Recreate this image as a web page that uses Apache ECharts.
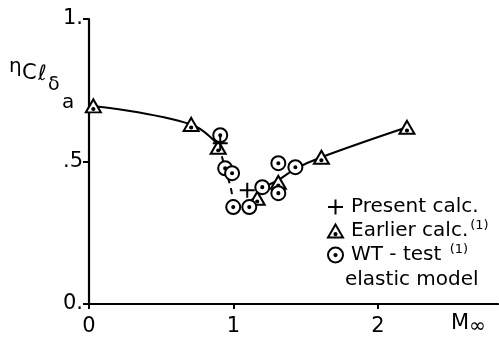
<!DOCTYPE html>
<html>
<head>
<meta charset="utf-8">
<script src="https://cdn.jsdelivr.net/npm/echarts@6/dist/echarts.min.js"></script>
<style>
  html, body { margin: 0; padding: 0; background: #fff; }
  #chart { width: 499px; height: 341px; }
</style>
</head>
<body>
<div id="chart"></div>
<script>
// Roll-control effectiveness versus free-stream Mach number
const presentX = [0.908, 1.095];
const presentY = [0.564, 0.399];

const earlierX = [0.03, 0.707, 0.894, 1.164, 1.31, 1.608, 2.2];
const earlierY = [0.695, 0.63, 0.55, 0.371, 0.427, 0.515, 0.62];

const wtX = [0.908, 0.942, 0.99, 0.998, 1.109, 1.199, 1.31, 1.31, 1.428];
const wtY = [0.592, 0.476, 0.459, 0.34, 0.34, 0.41, 0.494, 0.389, 0.48];

// faired curves
const leftCurveX = [0.03, 0.707, 0.9];
const leftCurveY = [0.695, 0.63, 0.555];
const dashCurveX = [0.9, 0.945, 0.98, 0.997];
const dashCurveY = [0.555, 0.47, 0.41, 0.36];
const rightCurveX = [1.12, 1.164, 1.2, 1.31, 1.43, 1.608, 2.2];
const rightCurveY = [0.365, 0.375, 0.405, 0.435, 0.475, 0.515, 0.62];

const xTicks = [0, 1, 2];
const yTicks = [0, 0.5, 1];
const yTickText = { 0: '0.', 0.5: '.5', 1: '1.' };

const pairs = (xs, ys) => xs.map((x, i) => [x, ys[i]]);

const FONT = "'DejaVu Sans', 'Noto Sans', sans-serif";
const plusPath = 'path://M-10,0L10,0M0,-10L0,10';
const triPath = 'path://M0,-10L11.5,10L-11.5,10Z M0,3.2A1.6,1.6 0 1,1 0,6.4A1.6,1.6 0 1,1 0,3.2Z';
const circPath = 'path://M0,-10A10,10 0 1,1 0,10A10,10 0 1,1 0,-10Z M0,-1.5A1.5,1.5 0 1,1 0,1.5A1.5,1.5 0 1,1 0,-1.5Z';

const markStyle = { color: '#fff', borderColor: '#000', borderWidth: 2, opacity: 1 };

const chart = echarts.init(document.getElementById('chart'), null, { renderer: 'canvas' });

chart.setOption({
  animation: false,
  backgroundColor: '#fff',
  textStyle: { fontFamily: FONT, color: '#000' },
  grid: { left: 89, right: 1, top: 19, bottom: 37 },
  xAxis: {
    type: 'value', min: 0, max: 2.83, interval: 1,
    axisLine: { lineStyle: { color: '#000', width: 2.2 } },
    axisTick: { show: true, customValues: xTicks, length: 5, lineStyle: { color: '#000', width: 2 } },
    axisLabel: { customValues: xTicks, fontSize: 21, color: '#000', margin: 12, fontFamily: FONT },
    splitLine: { show: false }
  },
  yAxis: {
    type: 'value', min: 0, max: 1, interval: 0.5,
    axisLine: { show: true, lineStyle: { color: '#000', width: 2.2 } },
    axisTick: { show: true, customValues: yTicks, length: 6, lineStyle: { color: '#000', width: 2 } },
    axisLabel: {
      customValues: yTicks, fontSize: 21, color: '#000', margin: 6, fontFamily: FONT,
      formatter: v => yTickText[v]
    },
    splitLine: { show: false }
  },
  legend: {
    orient: 'vertical', left: 322, top: 192,
    itemWidth: 15, itemHeight: 15, itemGap: 2,
    selectedMode: false,
    data: [
      { name: 'Present calc.', icon: plusPath, itemStyle: markStyle },
      { name: 'Earlier calc.', icon: triPath, itemStyle: markStyle },
      { name: 'WT-test', icon: circPath, itemStyle: markStyle }
    ],
    formatter: name => {
      if (name === 'Earlier calc.') return '{t|Earlier calc.}{s|(1)}';
      if (name === 'WT-test') return '{t|WT - test }{s|(1)}';
      return '{t|' + name + '}';
    },
    textStyle: {
      fontFamily: FONT,
      rich: {
        t: { fontSize: 20, lineHeight: 24, color: '#000', fontFamily: FONT, padding: [0, 0, 0, 3] },
        s: { fontSize: 13, lineHeight: 13, color: '#000', verticalAlign: 'top', fontFamily: FONT, padding: [0, 0, 0, 2] }
      }
    }
  },
  graphic: [
    { type: 'text', left: 345, top: 270, style: { text: 'elastic model', font: '20px ' + FONT, fill: '#000' } },
    { type: 'text', left: 451, top: 313, style: {
        text: '{m|M}{s|∞}',
        rich: {
          m: { fontSize: 21, fontFamily: FONT, fill: '#000', lineHeight: 24, verticalAlign: 'top' },
          s: { fontSize: 20, fontFamily: FONT, fill: '#000', lineHeight: 24, verticalAlign: 'bottom' }
        }
      } },
    { type: 'text', left: 9, top: 57, style: { text: 'η', font: '20px ' + FONT, fill: '#000' } },
    { type: 'text', left: 22, top: 63, style: { text: 'C', font: '21px ' + FONT, fill: '#000' } },
    { type: 'text', left: 38, top: 64, style: { text: 'ℓ', font: '21px ' + FONT, fill: '#000' } },
    { type: 'text', left: 48, top: 76, style: { text: 'δ', font: '19px ' + FONT, fill: '#000' } },
    { type: 'text', left: 62, top: 93, style: { text: 'a', font: '20px ' + FONT, fill: '#000' } }
  ],
  series: [
    {
      name: 'leftCurve', type: 'line', data: pairs(leftCurveX, leftCurveY),
      smooth: 0.4, showSymbol: false, silent: true, z: 1,
      lineStyle: { color: '#000', width: 2 }
    },
    {
      name: 'dashCurve', type: 'line', data: pairs(dashCurveX, dashCurveY),
      smooth: 0.4, showSymbol: false, silent: true, z: 1,
      lineStyle: { color: '#000', width: 2, type: [6, 5] }
    },
    {
      name: 'rightCurve', type: 'line', data: pairs(rightCurveX, rightCurveY),
      smooth: 0.4, showSymbol: false, silent: true, z: 1,
      lineStyle: { color: '#000', width: 2 }
    },
    {
      name: 'Earlier calc.', type: 'scatter', data: pairs(earlierX, earlierY),
      symbol: triPath, symbolSize: [15, 13], itemStyle: markStyle, z: 3
    },
    {
      name: 'WT-test', type: 'scatter', data: pairs(wtX, wtY),
      symbol: circPath, symbolSize: 14, itemStyle: markStyle, z: 4
    },
    {
      name: 'Present calc.', type: 'scatter', data: pairs(presentX, presentY),
      symbol: plusPath, symbolSize: 15, itemStyle: { color: 'none', borderColor: '#000', borderWidth: 2, opacity: 1 }, z: 5
    }
  ]
});
</script>
</body>
</html>
